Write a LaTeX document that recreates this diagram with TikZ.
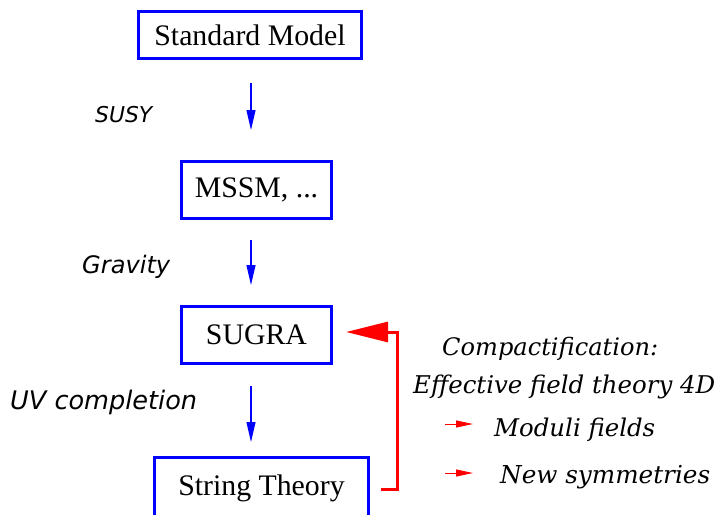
\documentclass[tikz,border=0pt]{standalone}
\usepackage{fontspec}
\setmainfont{Liberation Serif}
\newfontfamily\labfont{DejaVu Sans}
\newfontfamily\notefont{DejaVu Serif}
\usetikzlibrary{arrows.meta}
\newcommand{\fitw}[2]{\resizebox{#1}{!}{#2}}
\begin{document}
\begin{tikzpicture}[x=1pt,y=-1pt,
  box/.style={draw=blue,line width=3pt,inner sep=0pt,
    font=\fontsize{29.8}{34}\selectfont},
  flow/.style={draw=blue,line width=1.1pt,-{Triangle[length=20pt,width=9pt]}},
  lab/.style={anchor=base west,inner sep=0pt,font=\labfont\itshape\fontsize{24}{28}\selectfont},
  note/.style={anchor=base west,inner sep=0pt,font=\notefont\itshape\fontsize{24}{28}\selectfont},
  feed/.style={draw=red,line width=3pt,-{Triangle[length=42pt,width=20pt]}},
  pointer/.style={draw=red,line width=1pt,-{Triangle[length=17pt,width=7pt]}}]
\useasboundingbox (0,0) rectangle (719,514);
\begin{scope}
\clip (0,0) rectangle (719,514);
% boxes
\node[box,minimum width=223pt,minimum height=47pt] (sm) at (250,35) {Standard Model};
\node[box,minimum width=150pt,minimum height=57pt] (mssm) at (256.5,190) {MSSM, ...};
\node[box,minimum width=150pt,minimum height=57pt] (sugra) at (256.5,335) {SUGRA};
\node[box,minimum width=214pt,minimum height=75pt,text depth=20pt] (st) at (261.5,495) {String Theory};
\end{scope}
% flow arrows
\coordinate (ax) at (251,0);
\draw[flow,shorten <=23pt,shorten >=30pt] (sm.south -| ax) -- (mssm.north -| ax);
\draw[flow,shorten <=20pt,shorten >=20pt] (mssm.south -| ax) -- (sugra.north -| ax);
\draw[flow,shorten <=21pt,shorten >=14pt] (sugra.south -| ax) -- (st.north -| ax);
% left labels
\node[lab] (susy) at (95,122) {\fitw{57pt}{SUSY}};
\node[lab] (grav) at (82,273) {\fitw{88pt}{Gravity}};
\node[lab] (uv) at (10,409) {\fitw{187pt}{UV completion}};
% feedback arrow
\coordinate (fb) at (397,0);
\coordinate (fbstart) at (381,489);
\draw[feed,line join=miter,shorten >=13pt]
  (fbstart) -- (fbstart -| fb) |- ([yshift=3pt]sugra.east);
% notes
\node[note] (comp) at (442,355) {\fitw{216pt}{Compactification:}};
\node[note] (eff) at (413,393) {\fitw{302pt}{Effective field theory 4D}};
\node[note] (mod) at (494,436) {\fitw{161pt}{Moduli fields}};
\node[note] (new) at (500,483) {\fitw{210pt}{New symmetries}};
\coordinate (m1) at (445,424);
\coordinate (m2) at (445,473);
\draw[pointer] (m1) -- ++(28,0);
\draw[pointer] (m2) -- ++(28,0);
\end{tikzpicture}
\end{document}
